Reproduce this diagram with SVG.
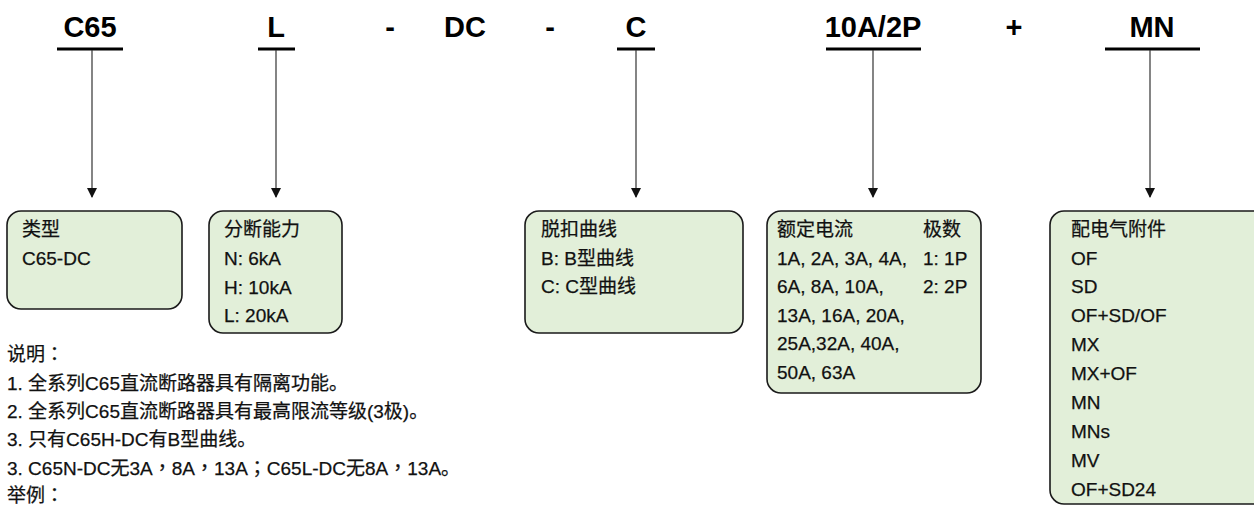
<svg xmlns="http://www.w3.org/2000/svg" width="1254" height="506" viewBox="0 0 1254 506">
<style>
.hd{font-family:"Liberation Sans","Noto Sans CJK SC",sans-serif;font-weight:bold;font-size:29px;fill:#000;text-anchor:middle}
.ul{stroke:#000;stroke-width:3;fill:none}
.vl{stroke:#333;stroke-width:1.2;fill:none}
.box{fill:#E2EFD9;stroke:#1a1a1a;stroke-width:1.6}
.t{font-family:"Liberation Sans","Noto Sans CJK SC",sans-serif;font-size:19px;fill:#111;stroke:#111;stroke-width:0.25}
.p{font-family:"Noto Sans CJK TC","Noto Sans CJK SC",sans-serif}
</style>
<defs>
<marker id="ah" markerUnits="userSpaceOnUse" markerWidth="10" markerHeight="11" refX="9" refY="5" orient="auto" viewBox="0 0 10 10">
<path d="M0,0 L10,5 L0,10 Z" fill="#111"/>
</marker>
</defs>
<g id="header">
<text class="hd" x="90" y="37">C65</text>
<text class="hd" x="276" y="37">L</text>
<text class="hd" x="390" y="37">-</text>
<text class="hd" x="465" y="37">DC</text>
<text class="hd" x="550" y="37">-</text>
<text class="hd" x="636" y="37">C</text>
<text class="hd" x="873" y="37">10A/2P</text>
<text class="hd" x="1014" y="37">+</text>
<text class="hd" x="1152" y="37">MN</text>
<line class="ul" x1="57" y1="49" x2="123" y2="49"/>
<line class="ul" x1="258" y1="49" x2="295" y2="49"/>
<line class="ul" x1="617" y1="49" x2="655" y2="49"/>
<line class="ul" x1="826" y1="49" x2="921" y2="49"/>
<line class="ul" x1="1105" y1="49" x2="1200" y2="49"/>
</g>
<g id="connectors">
<line class="vl" x1="92" y1="50" x2="92" y2="197" marker-end="url(#ah)"/>
<line class="vl" x1="276" y1="50" x2="276" y2="197" marker-end="url(#ah)"/>
<line class="vl" x1="636" y1="50" x2="636" y2="197" marker-end="url(#ah)"/>
<line class="vl" x1="873" y1="50" x2="873" y2="197" marker-end="url(#ah)"/>
<line class="vl" x1="1150" y1="50" x2="1150" y2="197" marker-end="url(#ah)"/>
</g>
<g id="node-type">
<rect class="box" x="7" y="211" width="175" height="98" rx="14"/>
<text class="t" x="22" y="236">类型</text>
<text class="t" x="22" y="265">C65-DC</text>
</g>
<g id="node-breaking">
<rect class="box" x="209" y="211" width="133" height="122" rx="14"/>
<text class="t" x="224" y="236">分断能力</text>
<text class="t" x="224" y="265">N: 6kA</text>
<text class="t" x="224" y="293.5">H: 10kA</text>
<text class="t" x="224" y="322">L: 20kA</text>
</g>
<g id="node-curve">
<rect class="box" x="525" y="211" width="218" height="122" rx="14"/>
<text class="t" x="541" y="236">脱扣曲线</text>
<text class="t" x="541" y="264.5">B: B型曲线</text>
<text class="t" x="541" y="293">C: C型曲线</text>
</g>
<g id="node-current">
<rect class="box" x="767" y="211" width="214" height="182" rx="14"/>
<text class="t" x="777" y="236">额定电流</text>
<text class="t" x="777" y="264.5">1A, 2A, 3A, 4A,</text>
<text class="t" x="777" y="293">6A, 8A, 10A,</text>
<text class="t" x="777" y="321.5">13A, 16A, 20A,</text>
<text class="t" x="777" y="350">25A,32A, 40A,</text>
<text class="t" x="777" y="378.5">50A, 63A</text>
<text class="t" x="923" y="236">极数</text>
<text class="t" x="923" y="264.5">1: 1P</text>
<text class="t" x="923" y="293">2: 2P</text>
</g>
<g id="node-accessory">
<rect class="box" x="1050" y="211" width="230" height="293" rx="14"/>
<text class="t" x="1071" y="236">配电气附件</text>
<text class="t" x="1071" y="264.5">OF</text>
<text class="t" x="1071" y="293">SD</text>
<text class="t" x="1071" y="322">OF+SD/OF</text>
<text class="t" x="1071" y="351">MX</text>
<text class="t" x="1071" y="380">MX+OF</text>
<text class="t" x="1071" y="409">MN</text>
<text class="t" x="1071" y="438">MNs</text>
<text class="t" x="1071" y="467">MV</text>
<text class="t" x="1071" y="495.5">OF+SD24</text>
</g>
<g id="notes">
<text class="t" x="7" y="361">说明<tspan class="p">：</tspan></text>
<text class="t" x="7" y="389.5">1. 全系列C65直流断路器具有隔离功能。</text>
<text class="t" x="7" y="418">2. 全系列C65直流断路器具有最高限流等级(3极)。</text>
<text class="t" x="7" y="446">3. 只有C65H-DC有B型曲线。</text>
<text class="t" x="7" y="474.5">3. C65N-DC无3A<tspan class="p">，</tspan>8A<tspan class="p">，</tspan>13A<tspan class="p">；</tspan>C65L-DC无8A<tspan class="p">，</tspan>13A。</text>
<text class="t" x="7" y="502">举例<tspan class="p">：</tspan></text>
</g>
</svg>
